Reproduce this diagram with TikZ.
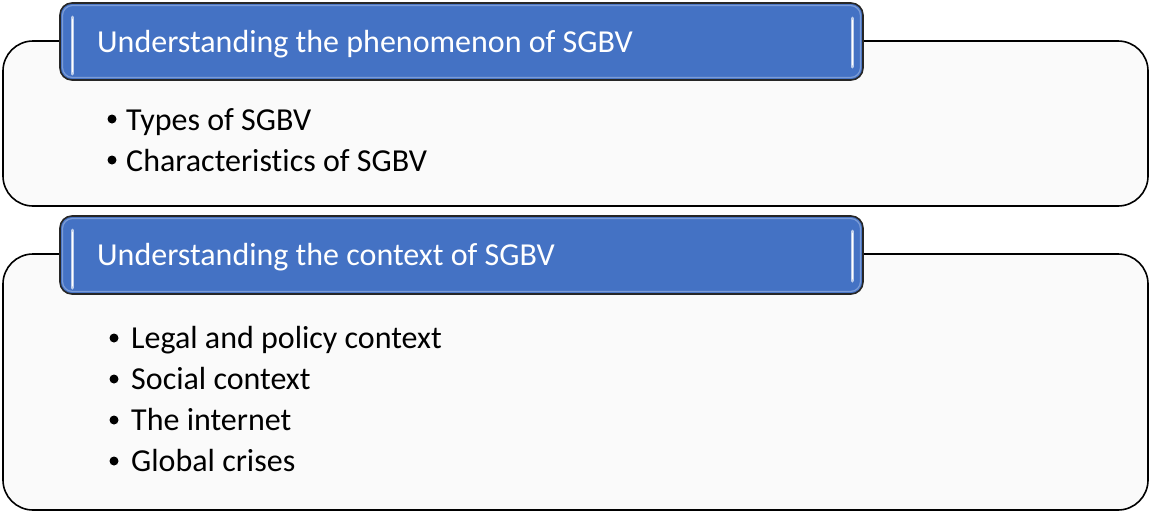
\documentclass[tikz,border=0pt]{standalone}
\usepackage{fontspec}
\setmainfont{Carlito}[Ligatures={NoCommon}]
\begin{document}
\begin{tikzpicture}[x=1pt,y=-1pt,
  bigbox/.style={draw=black,line width=1.6pt,rounded corners=30pt,fill=black!2},
  headbox/.style={draw=black!85,line width=1.6pt,rounded corners=12pt,fill=hdblue},
  headrim/.style={draw=hdblue!70!white,line width=1.2pt,rounded corners=10pt},
  headtext/.style={anchor=base west,text=white,font=\fontsize{32}{38}\selectfont,inner sep=0pt},
  itemtext/.style={anchor=base west,font=\fontsize{32}{38}\selectfont,inner sep=0pt},
  dot/.style={circle,fill=black,inner sep=0pt,minimum size=9pt},
  shine/.style={draw=hdblue!35!white,line width=3pt,line cap=round},
  shinecore/.style={draw=white,line width=1pt,line cap=round}]
\definecolor{hdblue}{HTML}{4472C4}
\useasboundingbox (0,0) rectangle (1153,512);
% top group
\draw[bigbox] (3,41) rectangle (1148,206);
\draw[headbox] (60,3) rectangle (863,80);
\draw[headrim] (62.5,5.5) rectangle (860.5,77.5);
\draw[shine] (72,17) -- (72,74);
\draw[shinecore] (72,19) -- (72,72);
\draw[shine] (852,18) -- (852,67);
\draw[shinecore] (852,20) -- (852,65);
\node[headtext] (h1) at (97,52) {Understanding the phenomenon of SGBV};
\node[dot] (d11) at (112,119) {};
\node[itemtext] (t11) at (126,130) {Types of SGBV};
\node[dot] (d12) at (112,160) {};
\node[itemtext] (t12) at (126,171) {Characteristics of SGBV};
% bottom group
\draw[bigbox] (3,254) rectangle (1148,510);
\draw[headbox] (60,216) rectangle (863,294);
\draw[headrim] (62.5,218.5) rectangle (860.5,291.5);
\draw[shine] (72,230) -- (72,288);
\draw[shinecore] (72,232) -- (72,286);
\draw[shine] (852,231) -- (852,281);
\draw[shinecore] (852,233) -- (852,279);
\node[headtext] (h2) at (97,265) {Understanding the context of SGBV};
\node[dot] (d21) at (114,338) {};
\node[itemtext] (t21) at (131,348) {Legal and policy context};
\node[dot] (d22) at (114,379) {};
\node[itemtext] (t22) at (131,389) {Social context};
\node[dot] (d23) at (114,420) {};
\node[itemtext] (t23) at (131,430) {The internet};
\node[dot] (d24) at (114,461) {};
\node[itemtext] (t24) at (131,471) {Global crises};
\end{tikzpicture}
\end{document}
